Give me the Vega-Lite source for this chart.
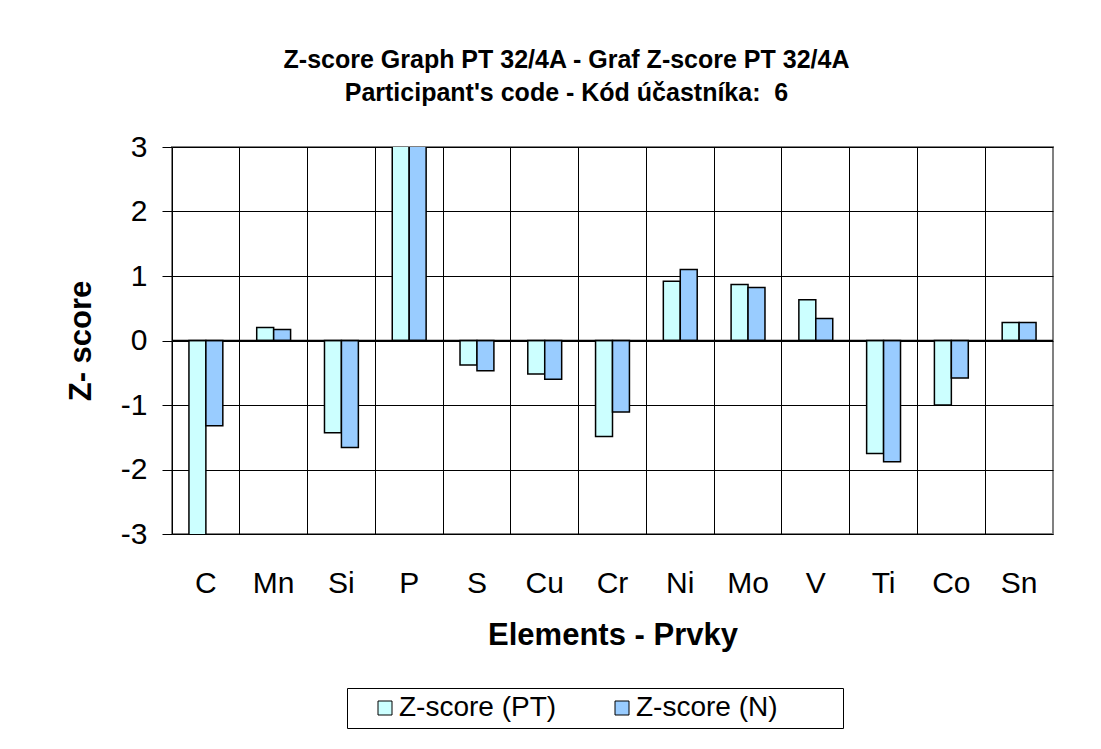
{
  "$schema": "https://vega.github.io/schema/vega-lite/v6.json",
  "autosize": {"type": "none"},
  "width": 881,
  "height": 387,
  "padding": {"left": 172, "top": 147, "right": 48, "bottom": 215},
  "background": "white",
  "title": {
    "text": ["Z-score Graph PT 32/4A - Graf Z-score PT 32/4A", "Participant's code - Kód účastníka:\u00a0 6"],
    "font": "Liberation Sans",
    "fontSize": 25,
    "fontWeight": "bold",
    "color": "black",
    "lineHeight": 33,
    "anchor": "middle",
    "frame": "group",
    "dx": -46,
    "offset": 26
  },
  "data": {
    "values": [
      {"el": "C", "s": "Z-score (PT)", "z": -3.6},
      {"el": "C", "s": "Z-score (N)", "z": -1.32},
      {"el": "Mn", "s": "Z-score (PT)", "z": 0.2},
      {"el": "Mn", "s": "Z-score (N)", "z": 0.17},
      {"el": "Si", "s": "Z-score (PT)", "z": -1.43},
      {"el": "Si", "s": "Z-score (N)", "z": -1.66},
      {"el": "P", "s": "Z-score (PT)", "z": 5.0},
      {"el": "P", "s": "Z-score (N)", "z": 4.8},
      {"el": "S", "s": "Z-score (PT)", "z": -0.38},
      {"el": "S", "s": "Z-score (N)", "z": -0.47},
      {"el": "Cu", "s": "Z-score (PT)", "z": -0.52},
      {"el": "Cu", "s": "Z-score (N)", "z": -0.6},
      {"el": "Cr", "s": "Z-score (PT)", "z": -1.49},
      {"el": "Cr", "s": "Z-score (N)", "z": -1.11},
      {"el": "Ni", "s": "Z-score (PT)", "z": 0.92},
      {"el": "Ni", "s": "Z-score (N)", "z": 1.1},
      {"el": "Mo", "s": "Z-score (PT)", "z": 0.87},
      {"el": "Mo", "s": "Z-score (N)", "z": 0.82},
      {"el": "V", "s": "Z-score (PT)", "z": 0.63},
      {"el": "V", "s": "Z-score (N)", "z": 0.34},
      {"el": "Ti", "s": "Z-score (PT)", "z": -1.75},
      {"el": "Ti", "s": "Z-score (N)", "z": -1.88},
      {"el": "Co", "s": "Z-score (PT)", "z": -1.0},
      {"el": "Co", "s": "Z-score (N)", "z": -0.58},
      {"el": "Sn", "s": "Z-score (PT)", "z": 0.28},
      {"el": "Sn", "s": "Z-score (N)", "z": 0.28}
    ]
  },
  "layer": [
    {
      "mark": {"type": "bar", "stroke": "black", "strokeWidth": 1.5, "clip": true},
      "encoding": {
        "x": {
          "field": "el",
          "type": "nominal",
          "sort": null,
          "scale": {"paddingInner": 0, "paddingOuter": 0},
          "axis": {
            "title": "Elements - Prvky",
            "titleFont": "Liberation Sans",
            "titleFontSize": 31,
            "titleFontWeight": "bold",
            "titleColor": "black",
            "titlePadding": 22,
            "labelFont": "Liberation Sans",
            "labelFontSize": 30,
            "labelColor": "black",
            "labelAngle": 0,
            "labelPadding": 34,
            "ticks": false,
            "domain": false,
            "grid": true,
            "bandPosition": 0,
            "gridColor": "black",
            "gridWidth": 1
          }
        },
        "xOffset": {
          "field": "s",
          "type": "nominal",
          "sort": ["Z-score (PT)", "Z-score (N)"],
          "scale": {"paddingInner": 0, "paddingOuter": 1.5}
        },
        "y": {
          "field": "z",
          "type": "quantitative",
          "scale": {"domain": [-3, 3], "nice": false},
          "axis": {
            "title": "Z- score",
            "titleFont": "Liberation Sans",
            "titleFontSize": 31,
            "titleFontWeight": "bold",
            "titleColor": "black",
            "titlePadding": 23,
            "values": [-3, -2, -1, 0, 1, 2, 3],
            "labelExpr": "'' + datum.value",
            "labelFont": "Liberation Sans",
            "labelFontSize": 30,
            "labelColor": "black",
            "labelPadding": 15,
            "tickSize": 10,
            "tickColor": "black",
            "domain": false,
            "grid": true,
            "gridColor": "black",
            "gridWidth": 1
          }
        },
        "color": {
          "field": "s",
          "type": "nominal",
          "sort": ["Z-score (PT)", "Z-score (N)"],
          "scale": {"domain": ["Z-score (PT)", "Z-score (N)"], "range": ["#CCFFFF", "#99CCFF"]},
          "legend": {
            "title": "\u00a0",
            "titleOrient": "right",
            "titlePadding": 59,
            "titleFontSize": 10,
            "orient": "none",
            "legendX": 175,
            "legendY": 541,
            "direction": "horizontal",
            "columns": 2,
            "columnPadding": 33,
            "labelFont": "Liberation Sans",
            "labelFontSize": 28,
            "labelColor": "black",
            "labelOffset": 0,
            "labelLimit": 400,
            "symbolType": "square",
            "symbolSize": 196,
            "symbolOffset": 18,
            "symbolStrokeColor": "black",
            "symbolStrokeWidth": 1,
            "strokeColor": "black",
            "padding": 6,
            "fillColor": "white"
          }
        }
      }
    },
    {
      "data": {"values": [{"z": 0}]},
      "mark": {"type": "rule", "color": "black", "strokeWidth": 1.3},
      "encoding": {"y": {"field": "z", "type": "quantitative"}}
    }
  ],
  "config": {
    "view": {"stroke": "#808080", "strokeWidth": 2}
  }
}
